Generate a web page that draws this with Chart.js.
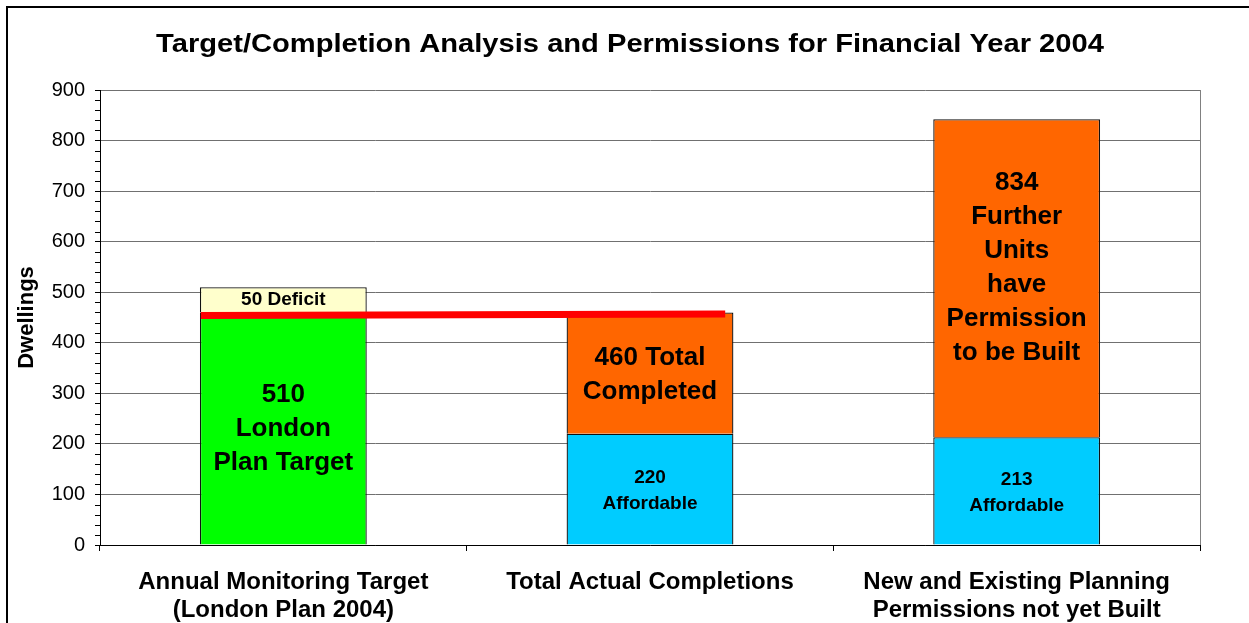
<!DOCTYPE html>
<html>
<head>
<meta charset="utf-8">
<script src="https://cdn.jsdelivr.net/npm/chart.js@4/dist/chart.umd.min.js"></script>
<style>
  body { margin: 0; background: #fff; }
  #wrap { position: relative; width: 1249px; height: 623px; overflow: hidden; }
  #frame { position: absolute; left: 6px; top: 6px; width: 1400px; height: 800px;
           border-left: 2px solid #000; border-top: 2px solid #000; pointer-events: none; }
  canvas { position: absolute; left: 0; top: 0; }
</style>
</head>
<body>
<div id="wrap">
  <canvas id="chart" width="1249" height="623"></canvas>
  <div id="frame"></div>
</div>
<script>
const chartTitle = 'Target/Completion Analysis and Permissions for Financial Year 2004';
const categories = [
    ['Annual Monitoring Target', '(London Plan 2004)'],
    'Total Actual Completions',
    ['New and Existing Planning', 'Permissions not yet Built']
];
const targetMet = [460, null, null];
const affordable = [null, 220, 213];
const otherUnits = [null, 240, 629];
const deficit = [50, null, null];

// text written inside the bars
const targetText = [['510', 'London', 'Plan Target'], null, null];
const affordableText = [null, ['220', 'Affordable'], ['213', 'Affordable']];
const otherText = [null, ['460 Total', 'Completed'],
    ['834', 'Further', 'Units', 'have', 'Permission', 'to be Built']];
const deficitText = [['50 Deficit'], null, null];

// red target line (x in category units)
const redLineX = [-0.225, 1.205];
const redLineY = [454, 457];

const yTicks = [0, 100, 200, 300, 400, 500, 600, 700, 800, 900];

const FONT = 'Arial, "Liberation Sans", sans-serif';

const titleDraw = {
    id: 'titleDraw',
    afterDraw(chart) {
        const ctx = chart.ctx;
        ctx.save();
        ctx.font = 'bold 26px ' + FONT;
        ctx.fillStyle = '#000';
        ctx.textAlign = 'center';
        ctx.textBaseline = 'middle';
        ctx.translate(630, 45);
        ctx.scale(1.12, 1);
        ctx.fillText(chartTitle, 0, 0);
        ctx.restore();
    }
};

const barText = {
    id: 'barText',
    afterDatasetsDraw(chart) {
        const ctx = chart.ctx;
        ctx.save();
        ctx.fillStyle = '#000';
        ctx.textAlign = 'center';
        ctx.textBaseline = 'middle';
        chart.data.datasets.forEach((ds, di) => {
            if (!ds.texts) return;
            const meta = chart.getDatasetMeta(di);
            meta.data.forEach((bar, i) => {
                const lines = ds.texts[i];
                if (!lines) return;
                ctx.font = 'bold ' + ds.textSize + 'px ' + FONT;
                const lh = ds.textLine;
                const cy = (bar.y + bar.base) / 2 + (ds.textShift ? ds.textShift[i] : 0);
                const y0 = cy - (lines.length - 1) * lh / 2;
                lines.forEach((t, k) => ctx.fillText(t, bar.x, y0 + k * lh));
            });
        });
        ctx.restore();
    }
};

const frameBits = {
    id: 'frameBits',
    afterDraw(chart) {
        const ctx = chart.ctx;
        const a = chart.chartArea;
        const y = chart.scales.y;
        ctx.save();
        ctx.strokeStyle = '#808080';
        ctx.lineWidth = 1;
        ctx.beginPath();
        ctx.moveTo(Math.round(a.right) + 0.5, a.top);
        ctx.lineTo(Math.round(a.right) + 0.5, a.bottom);
        ctx.stroke();
        // minor ticks every 20
        ctx.strokeStyle = '#000';
        ctx.beginPath();
        for (let v = 20; v < 900; v += 20) {
            if (v % 100 === 0) continue;
            const py = Math.round(y.getPixelForValue(v)) + 0.5;
            ctx.moveTo(a.left - 5, py);
            ctx.lineTo(a.left, py);
        }
        ctx.stroke();
        ctx.restore();
    }
};

function barSet(label, data, color, texts, size, line, shift) {
    return {
        type: 'bar',
        label: label,
        data: data,
        backgroundColor: color,
        borderColor: '#111',
        borderWidth: 1.3,
        grouped: false,
        order: 1,
        texts: texts,
        textSize: size,
        textLine: line,
        textShift: shift
    };
}

new Chart(document.getElementById('chart'), {
    data: {
        labels: categories,
        datasets: [
            barSet('London Plan Target', targetMet, '#00ff00', targetText, 26, 34),
            barSet('Affordable', affordable, '#00ccff', affordableText, 19, 26, [0, 2, 2]),
            barSet('Other Units', otherUnits, '#ff6600', otherText, 26, 34, [0, 2, -10]),
            barSet('Deficit', deficit, '#ffffcc', deficitText, 19, 20),
            {
                type: 'line',
                label: 'Target line',
                data: redLineX.map((x, i) => ({ x: x, y: redLineY[i] })),
                xAxisID: 'xLine',
                stack: 'line',
                borderColor: '#ff0000',
                borderWidth: 7,
                borderCapStyle: 'butt',
                pointRadius: 0,
                order: 0
            }
        ]
    },
    options: {
        responsive: false,
        animation: false,
        layout: { padding: { left: 0, right: 49, top: 90, bottom: 0 } },
        plugins: {
            legend: { display: false },
            tooltip: { enabled: false },
            title: { display: false }
        },
        datasets: {
            bar: { categoryPercentage: 1, barPercentage: 0.455 }
        },
        scales: {
            x: {
                stacked: true,
                offset: true,
                grid: { offset: true, drawOnChartArea: false, tickLength: 6, tickColor: '#000' },
                border: { color: '#000' },
                ticks: {
                    color: '#000',
                    padding: 17,
                    maxRotation: 0,
                    font: { family: FONT, size: 24, weight: 'bold', lineHeight: '28px' }
                },
                afterFit(s) { s.height = 78; }
            },
            xLine: {
                type: 'linear',
                display: false,
                min: -0.5,
                max: 2.5
            },
            y: {
                stacked: true,
                min: 0,
                max: 900,
                afterBuildTicks(s) { s.ticks = yTicks.map(v => ({ value: v })); },
                grid: { color: '#707070', tickColor: '#000', tickLength: 5 },
                border: { color: '#000' },
                ticks: {
                    color: '#000',
                    padding: 10,
                    font: { family: FONT, size: 20 }
                },
                title: {
                    display: true,
                    text: 'Dwellings',
                    color: '#000',
                    font: { family: FONT, size: 22, weight: 'bold' },
                    padding: { top: 14, bottom: 0 }
                },
                afterFit(s) { s.width = 100; }
            }
        }
    },
    plugins: [barText, frameBits, titleDraw]
});
</script>
</body>
</html>
